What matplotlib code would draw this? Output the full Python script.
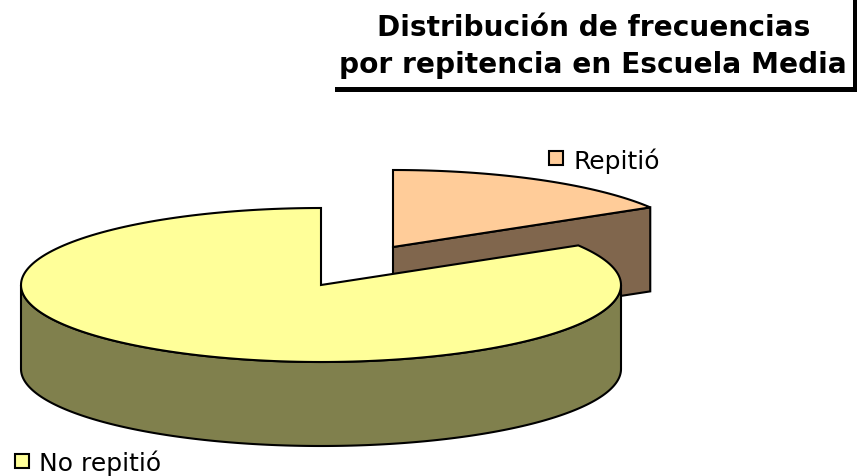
import numpy as np
import matplotlib
matplotlib.use('Agg')
import matplotlib.pyplot as plt
from matplotlib.patches import Polygon, Rectangle

labels = ['Repitió', 'No repitió']
values = [16.4, 83.6]
top_colors = ['#FFCC99', '#FFFF99']
side_colors = ['#80664D', '#80804D']
title_lines = ['Distribución de frecuencias', 'por repitencia en Escuela Media']

cx, cy = 321, 286   # centro de la torta
rx, ry = 300, 77
depth = 84
explode = (72, -38)  # desplazamiento de la porcion Repitió

fig = plt.figure(figsize=(8.57, 4.77), dpi=100)
ax = fig.add_axes([0, 0, 1, 1])
ax.set_xlim(0, 857)
ax.set_ylim(477, 0)
ax.axis('off')


def arc(t1, t2, ox=0, oy=0):
    t = np.radians(np.linspace(t1, t2, 200))
    return np.column_stack([cx + ox + rx * np.cos(t), cy + oy - ry * np.sin(t)])


# angulos a partir de los valores, desde las 12 en sentido horario
a0 = 90
a1 = a0 - 360 * values[0] / sum(values)
a2 = a1 - 360 * values[1] / sum(values)

# porcion separada: cara del corte y tapa
ox, oy = explode
c0 = np.array([cx + ox, cy + oy])
tip = arc(a1, a1, ox, oy)[0]
side = [c0, tip, tip + [0, depth], c0 + [0, depth]]
ax.add_patch(Polygon(side, fc=side_colors[0], ec='black', lw=1.5, zorder=1))
cap = np.vstack([[c0], arc(a0, a1, ox, oy)])
ax.add_patch(Polygon(cap, fc=top_colors[0], ec='black', lw=1.5, zorder=2))

# porcion grande: pared visible y tapa
wall = np.vstack([arc(0, -180), arc(-180, 0) + [0, depth]])
ax.add_patch(Polygon(wall, fc=side_colors[1], ec='black', lw=1.5, zorder=3))
c1 = np.array([cx, cy])
cap = np.vstack([[c1], arc(a1, a2)])
ax.add_patch(Polygon(cap, fc=top_colors[1], ec='black', lw=1.5, zorder=4))

# titulo con recuadro parcial
ax.add_patch(Rectangle((335, 88), 522, 5, fc='black', ec='none', zorder=5))
ax.add_patch(Rectangle((853, 0), 4, 93, fc='black', ec='none', zorder=5))
ax.text(594, 36, title_lines[0], ha='center', va='baseline', fontsize=20.2,
        fontweight='bold', family='DejaVu Sans')
ax.text(593, 73, title_lines[1], ha='center', va='baseline', fontsize=20.2,
        fontweight='bold', family='DejaVu Sans')

# leyendas sueltas
ax.add_patch(Rectangle((549, 152), 14, 14, fc=top_colors[0], ec='black', lw=1.5, zorder=5))
ax.text(574, 169, labels[0], ha='left', va='baseline', fontsize=18, family='DejaVu Sans')
ax.add_patch(Rectangle((15, 455), 14, 14, fc=top_colors[1], ec='black', lw=1.5, zorder=5))
ax.text(39, 471, labels[1], ha='left', va='baseline', fontsize=18, family='DejaVu Sans')

plt.savefig('out.png', dpi=100)
